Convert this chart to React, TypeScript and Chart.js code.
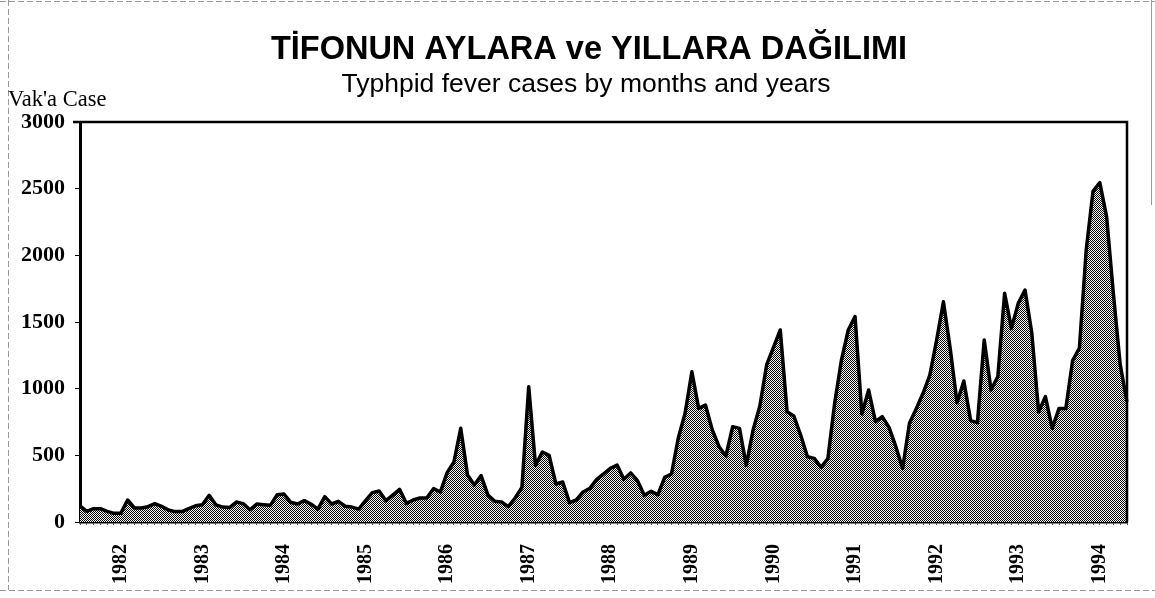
import React, { useEffect, useRef } from "react";
import { Chart, registerables } from "chart.js";

Chart.register(...registerables);

const TITLE = "TİFONUN AYLARA ve YILLARA DAĞILIMI";
const SUBTITLE = "Typhpid fever cases by months and years";
const Y_LABEL = "Vak'a Case";

const YEARS = [1982, 1983, 1984, 1985, 1986, 1987, 1988, 1989, 1990, 1991, 1992, 1993, 1994];

const cases1982 = [120, 80, 100, 100, 80, 65, 65, 165, 105, 105, 115, 138];
const cases1983 = [118, 90, 78, 78, 100, 122, 130, 200, 128, 112, 108, 150];
const cases1984 = [138, 92, 135, 130, 125, 205, 210, 148, 135, 160, 133, 96];
const cases1985 = [190, 135, 155, 118, 112, 97, 160, 220, 232, 160, 202, 245];
const cases1986 = [140, 165, 180, 180, 250, 225, 370, 450, 703, 352, 277, 348];
const cases1987 = [202, 155, 150, 115, 180, 260, 1015, 425, 525, 500, 285, 300];
const cases1988 = [145, 165, 225, 252, 320, 360, 402, 427, 320, 368, 310, 200];
const cases1989 = [230, 205, 335, 360, 630, 815, 1127, 852, 877, 690, 565, 495];
const cases1990 = [715, 702, 425, 690, 870, 1180, 1310, 1440, 827, 795, 652, 490];
const cases1991 = [477, 410, 475, 890, 1215, 1440, 1540, 810, 990, 752, 790, 710];
const cases1992 = [565, 402, 740, 850, 965, 1102, 1365, 1652, 1300, 895, 1058, 760];
const cases1993 = [745, 1365, 990, 1090, 1715, 1452, 1640, 1740, 1415, 827, 940, 702];
const cases1994 = [852, 852, 1210, 1305, 2040, 2480, 2545, 2290, 1710, 1180, 900];

const SERIES = [
  cases1982, cases1983, cases1984, cases1985, cases1986, cases1987, cases1988,
  cases1989, cases1990, cases1991, cases1992, cases1993, cases1994,
];

const Y_MIN = 0;
const Y_MAX = 3000;
const Y_STEP = 500;

const SERIF = "'Liberation Serif', 'Times New Roman', serif";
const SANS = "'Liberation Sans', Arial, sans-serif";

export default function App() {
  const ref = useRef<HTMLCanvasElement>(null);

  useEffect(() => {
    const canvas = ref.current;
    if (!canvas) return;

    const tile = document.createElement("canvas");
    tile.width = 2;
    tile.height = 2;
    const tctx = tile.getContext("2d")!;
    tctx.fillStyle = "#ffffff";
    tctx.fillRect(0, 0, 2, 2);
    tctx.fillStyle = "#000000";
    tctx.fillRect(0, 0, 1, 1);
    tctx.fillRect(1, 1, 1, 1);
    const pattern = canvas.getContext("2d")!.createPattern(tile, "repeat");

    const labels: string[] = [];
    const values: number[] = [];
    SERIES.forEach((arr, k) => {
      arr.forEach((v, m) => {
        labels.push(`${YEARS[k]}-${m + 1}`);
        values.push(v);
      });
    });

    const framePlugin = {
      id: "frame",
      beforeDraw(chart: any) {
        const ctx = chart.ctx;
        ctx.save();
        ctx.fillStyle = "#ffffff";
        ctx.fillRect(0, 0, chart.width, chart.height);
        ctx.strokeStyle = "#9a9a9a";
        ctx.lineWidth = 1;
        ctx.setLineDash([6, 3]);
        ctx.beginPath();
        ctx.moveTo(0, 1.5);
        ctx.lineTo(chart.width, 1.5);
        ctx.moveTo(8.5, 0);
        ctx.lineTo(8.5, 590);
        ctx.moveTo(0, 590.5);
        ctx.lineTo(chart.width, 590.5);
        ctx.stroke();
        ctx.setLineDash([]);
        ctx.beginPath();
        ctx.moveTo(1151.5, 0);
        ctx.lineTo(1151.5, 205);
        ctx.stroke();

        ctx.fillStyle = "#000";
        ctx.textAlign = "center";
        ctx.textBaseline = "alphabetic";
        ctx.font = `bold 32.5px ${SANS}`;
        ctx.fillText(TITLE, 589, 59);
        ctx.font = `26.5px ${SANS}`;
        ctx.fillText(SUBTITLE, 586, 92);
        ctx.textAlign = "left";
        ctx.font = `22.5px ${SERIF}`;
        ctx.fillText(Y_LABEL, 8, 106);
        ctx.restore();
      },
      afterDatasetsDraw(chart: any) {
        const ctx = chart.ctx;
        const a = chart.chartArea;
        ctx.save();
        ctx.strokeStyle = "#000";
        ctx.lineWidth = 2.5;
        ctx.beginPath();
        ctx.moveTo(a.left - 7, a.top);
        ctx.lineTo(a.right, a.top);
        ctx.lineTo(a.right, a.bottom);
        ctx.stroke();
        ctx.restore();
      },
    };

    const chart = new Chart(canvas, {
      type: "line",
      data: {
        labels,
        datasets: [
          {
            data: values,
            borderColor: "#000",
            borderWidth: 3.5,
            backgroundColor: pattern as any,
            fill: "origin",
            pointRadius: 0,
            tension: 0,
            borderJoinStyle: "round",
          },
        ],
      },
      options: {
        responsive: false,
        animation: false,
        events: [],
        layout: { padding: { left: 0, right: 28, top: 122, bottom: 0 } },
        plugins: {
          legend: { display: false },
          tooltip: { enabled: false },
          title: { display: false },
          subtitle: { display: false },
        },
        scales: {
          x: {
            type: "category",
            offset: false,
            afterFit(scale: any) {
              scale.height = 76;
              scale.paddingLeft = 0;
              scale.paddingRight = 0;
            },
            border: { color: "#000", width: 2.5 },
            grid: {
              drawOnChartArea: false,
              drawTicks: true,
              tickLength: 3,
              color: "#555",
              lineWidth: 1,
            },
            ticks: {
              autoSkip: false,
              maxRotation: 90,
              minRotation: 90,
              padding: 19,
              color: "#000",
              font: { family: SERIF, size: 20, weight: "bold" },
              callback: (_v: any, index: number) =>
                index % 12 === 6 ? String(YEARS[Math.floor(index / 12)]) : "",
            },
          },
          y: {
            min: Y_MIN,
            max: Y_MAX,
            afterFit(scale: any) {
              scale.width = 80;
            },
            border: { color: "#000", width: 3 },
            grid: {
              drawOnChartArea: false,
              drawTicks: true,
              tickLength: 5,
              color: "#000",
              lineWidth: 1,
            },
            ticks: {
              stepSize: Y_STEP,
              padding: 10,
              color: "#000",
              font: { family: SERIF, size: 22, weight: "bold" },
              callback: (v: any) => String(v),
            },
          },
        },
      },
      plugins: [framePlugin],
    });

    return () => chart.destroy();
  }, []);

  return (
    <div style={{ position: "fixed", left: 0, top: 0, width: 1155, height: 598, background: "#fff" }}>
      <canvas ref={ref} width={1155} height={598} style={{ display: "block", width: 1155, height: 598 }} />
    </div>
  );
}
